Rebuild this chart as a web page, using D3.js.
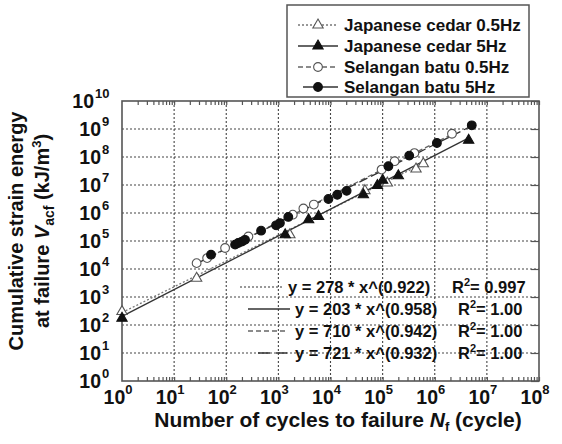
<!DOCTYPE html>
<html>
<head>
<meta charset="utf-8">
<script src="https://cdn.jsdelivr.net/npm/d3@7"></script>
<style>
body { margin: 0; background: #fff; }
text { font-family: "Liberation Sans", Arial, sans-serif; font-weight: bold; fill: #111; }
</style>
</head>
<body>
<div id="chart"></div>
<script>
// data
var seriesNames = ["Japanese cedar 0.5Hz", "Japanese cedar 5Hz", "Selangan batu 0.5Hz", "Selangan batu 5Hz"];

var jc05N = [1, 27, 1660, 45700, 123000, 437000, 603000];
var jc05V = [302, 4680, 166000, 6.3e6, 1.17e7, 3.72e7, 5.75e7];

var jc5N = [1, 1350, 3800, 5900, 42700, 79400, 100000, 200000, 4470000];
var jc5V = [174, 166000, 575000, 759000, 4.47e6, 9.55e6, 1.48e7, 2.14e7, 3.98e8];

var sb05N = [27, 43, 95, 266, 1890, 3020, 4790, 95500, 170000, 407000, 2140000];
var sb05V = [16200, 24500, 56200, 145000, 871000, 1.45e6, 2.0e6, 3.55e7, 7.08e7, 1.38e8, 6.76e8];

var sb5N = [51, 148, 170, 200, 229, 466, 904, 1070, 1550, 9120, 13500, 20400, 129000, 324000, 1100000, 5130000];
var sb5V = [32400, 74100, 85100, 95500, 110000, 234000, 363000, 437000, 724000, 3.16e6, 4.47e6, 6.17e6, 4.68e7, 1.12e8, 3.16e8, 1.35e9];

// fitted power lines (end points)
var fitJc05N = [1, 6e5], fitJc05V = [278, 5.9e7];
var fitJc5N = [1, 4.5e6], fitJc5V = [203, 4.8e8];
var fitSb05N = [27, 2.5e6], fitSb05V = [1.58e4, 7.55e8];
var fitSb5N = [27, 5e6], fitSb5V = [1.56e4, 1.26e9];

var fitLabels = ["y = 278 * x^(0.922)", "y = 203 * x^(0.958)", "y = 710 * x^(0.942)", "y = 721 * x^(0.932)"];
var fitR2 = ["0.997", "1.00", "1.00", "1.00"];

var xTickExp = [0, 1, 2, 3, 4, 5, 6, 7, 8];
var yTickExp = [0, 1, 2, 3, 4, 5, 6, 7, 8, 9, 10];

(function() {
var W = 562, H = 444;
var pLeft = 122, pRight = 539, pTop = 101, pBottom = 381;

var x = d3.scaleLog().domain([1, 1e8]).range([pLeft, pRight]);
var y = d3.scaleLog().domain([1, 1e10]).range([pBottom, pTop]);

var svg = d3.select("#chart").append("svg")
    .attr("width", W).attr("height", H);

// grid
var grid = svg.append("g");
xTickExp.slice(1, -1).forEach(function(e) {
    grid.append("line")
        .attr("x1", x(Math.pow(10, e))).attr("x2", x(Math.pow(10, e)))
        .attr("y1", pTop).attr("y2", pBottom)
        .attr("stroke", "#444").attr("stroke-width", 1.1).attr("stroke-dasharray", "2,2");
});
yTickExp.slice(1, -1).forEach(function(e) {
    grid.append("line")
        .attr("y1", y(Math.pow(10, e))).attr("y2", y(Math.pow(10, e)))
        .attr("x1", pLeft).attr("x2", pRight)
        .attr("stroke", "#444").attr("stroke-width", 1.1).attr("stroke-dasharray", "2,2");
});

// minor ticks top / bottom, major ticks right
var minor = [];
for (var e = 0; e < 8; e++) {
    for (var m = 2; m <= 10; m++) minor.push(m * Math.pow(10, e));
}
var xAxisB = d3.axisTop(x).tickValues(minor).tickSize(4).tickFormat("");
var xAxisT = d3.axisBottom(x).tickValues(minor).tickSize(4).tickFormat("");
svg.append("g").attr("transform", "translate(0," + pBottom + ")").call(xAxisB);
svg.append("g").attr("transform", "translate(0," + pTop + ")").call(xAxisT);
var yAxisR = d3.axisLeft(y).tickValues(yTickExp.map(function(e){return Math.pow(10, e);})).tickSize(8).tickFormat("");
svg.append("g").attr("transform", "translate(" + pRight + ",0)").call(yAxisR);
svg.selectAll(".domain").remove();
svg.selectAll(".tick line").attr("stroke", "#555").attr("stroke-width", 1.2);

// frame
svg.append("rect").attr("x", pLeft).attr("y", pTop)
    .attr("width", pRight - pLeft).attr("height", pBottom - pTop)
    .attr("fill", "none").attr("stroke", "#555").attr("stroke-width", 1.6);

// tick labels
xTickExp.forEach(function(e) {
    var t = svg.append("text").attr("x", x(Math.pow(10, e)) - 4).attr("y", 404)
        .attr("text-anchor", "middle").style("font-size", "19.5px");
    t.append("tspan").text("10");
    t.append("tspan").attr("dy", -10).style("font-size", "13px").text(e);
});
yTickExp.forEach(function(e) {
    var yy = y(Math.pow(10, e));
    svg.append("text").attr("x", e < 10 ? 101 : 94).attr("y", yy + 7)
        .attr("text-anchor", "end").style("font-size", "19.5px").text("10");
    svg.append("text").attr("x", e < 10 ? 102 : 95).attr("y", yy - 3)
        .style("font-size", "13px").text(e);
});

// axis titles
var xt = svg.append("text").attr("x", 338).attr("y", 427)
    .attr("text-anchor", "middle").style("font-size", "21px");
xt.append("tspan").text("Number of cycles to failure ");
xt.append("tspan").style("font-style", "italic").text("N");
xt.append("tspan").attr("dy", 4).style("font-size", "13px").text("f");
xt.append("tspan").attr("dy", -4).text(" (cycle)");

var yt = svg.append("g").attr("transform", "translate(0,231) rotate(-90)");
yt.append("text").attr("x", 0).attr("y", 23).attr("text-anchor", "middle")
    .style("font-size", "20px").text("Cumulative strain energy");
var yt2 = yt.append("text").attr("x", 0).attr("y", 49).attr("text-anchor", "middle")
    .style("font-size", "20px");
yt2.append("tspan").text("at failure ");
yt2.append("tspan").style("font-style", "italic").text("V");
yt2.append("tspan").attr("dy", 5).style("font-size", "14px").text("acf");
yt2.append("tspan").attr("dy", -5).text(" (kJ/m");
yt2.append("tspan").attr("dy", -8).style("font-size", "13px").text("3");
yt2.append("tspan").attr("dy", 8).text(")");

// series styles
var styles = [
    { dash: "2,2", color: "#777", width: 1.3, shape: d3.symbolTriangle, fill: "#fff" },
    { dash: null, color: "#333", width: 1.3, shape: d3.symbolTriangle, fill: "#111" },
    { dash: "5,3", color: "#666", width: 1.3, shape: d3.symbolCircle, fill: "#fff" },
    { dash: "9,4", color: "#333", width: 1.3, shape: d3.symbolCircle, fill: "#111" }
];
var fitN = [fitJc05N, fitJc5N, fitSb05N, fitSb5N];
var fitV = [fitJc05V, fitJc5V, fitSb05V, fitSb5V];
var ptsN = [jc05N, jc5N, sb05N, sb5N];
var ptsV = [jc05V, jc5V, sb05V, sb5V];

var line = d3.line().x(function(d){return x(d[0]);}).y(function(d){return y(d[1]);});

styles.forEach(function(s, i) {
    svg.append("path")
        .datum(d3.zip(fitN[i], fitV[i]))
        .attr("d", line)
        .attr("fill", "none").attr("stroke", s.color)
        .attr("stroke-width", s.width)
        .attr("stroke-dasharray", s.dash);
});

function marker(g, s, cx, cy) {
    var size = s.shape === d3.symbolTriangle ? 46 : 60;
    g.append("path")
        .attr("d", d3.symbol().type(s.shape).size(size))
        .attr("transform", "translate(" + cx + "," + cy + ")")
        .attr("fill", s.fill)
        .attr("stroke", s.fill === "#fff" ? "#555" : "#111")
        .attr("stroke-width", 1.1);
}

styles.forEach(function(s, i) {
    var g = svg.append("g");
    ptsN[i].forEach(function(n, j) {
        marker(g, s, x(n), y(ptsV[i][j]));
    });
});

// fit equation labels
var eqY = [293, 315, 337, 359];
var eqLineX = [[240, 283], [248, 290], [248, 288], [258, 287]];
var eqTextX = [288, 295, 295, 295];
var r2X = [452, 458, 458, 458];
fitLabels.forEach(function(lab, i) {
    svg.append("line")
        .attr("x1", eqLineX[i][0]).attr("x2", eqLineX[i][1])
        .attr("y1", eqY[i] - 6).attr("y2", eqY[i] - 6)
        .attr("stroke", styles[i].color).attr("stroke-width", 1.3)
        .attr("stroke-dasharray", i === 3 ? "12,6" : styles[i].dash);
    svg.append("text").attr("x", eqTextX[i]).attr("y", eqY[i])
        .style("font-size", "16.5px").text(lab);
    var r = svg.append("text").attr("x", r2X[i]).attr("y", eqY[i])
        .style("font-size", "16.5px");
    r.append("tspan").text("R");
    r.append("tspan").attr("dy", -7).style("font-size", "11px").text("2");
    r.append("tspan").attr("dy", 7).text("= " + fitR2[i]);
});

// legend
var lg = svg.append("g");
lg.append("rect").attr("x", 287).attr("y", 5).attr("width", 242).attr("height", 92)
    .attr("fill", "#fff").attr("stroke", "#555").attr("stroke-width", 1.5);
var legY = [25, 46, 67, 87];
seriesNames.forEach(function(name, i) {
    var s = styles[i];
    lg.append("line")
        .attr("x1", i === 3 ? 303 : 298).attr("x2", 338)
        .attr("y1", legY[i]).attr("y2", legY[i])
        .attr("stroke", s.color).attr("stroke-width", 1.3)
        .attr("stroke-dasharray", i === 3 ? null : s.dash);
    marker(lg, s, 318, legY[i]);
    lg.append("text").attr("x", 344).attr("y", legY[i] + 6)
        .style("font-size", "17px").text(name);
});
})();
</script>
</body>
</html>
